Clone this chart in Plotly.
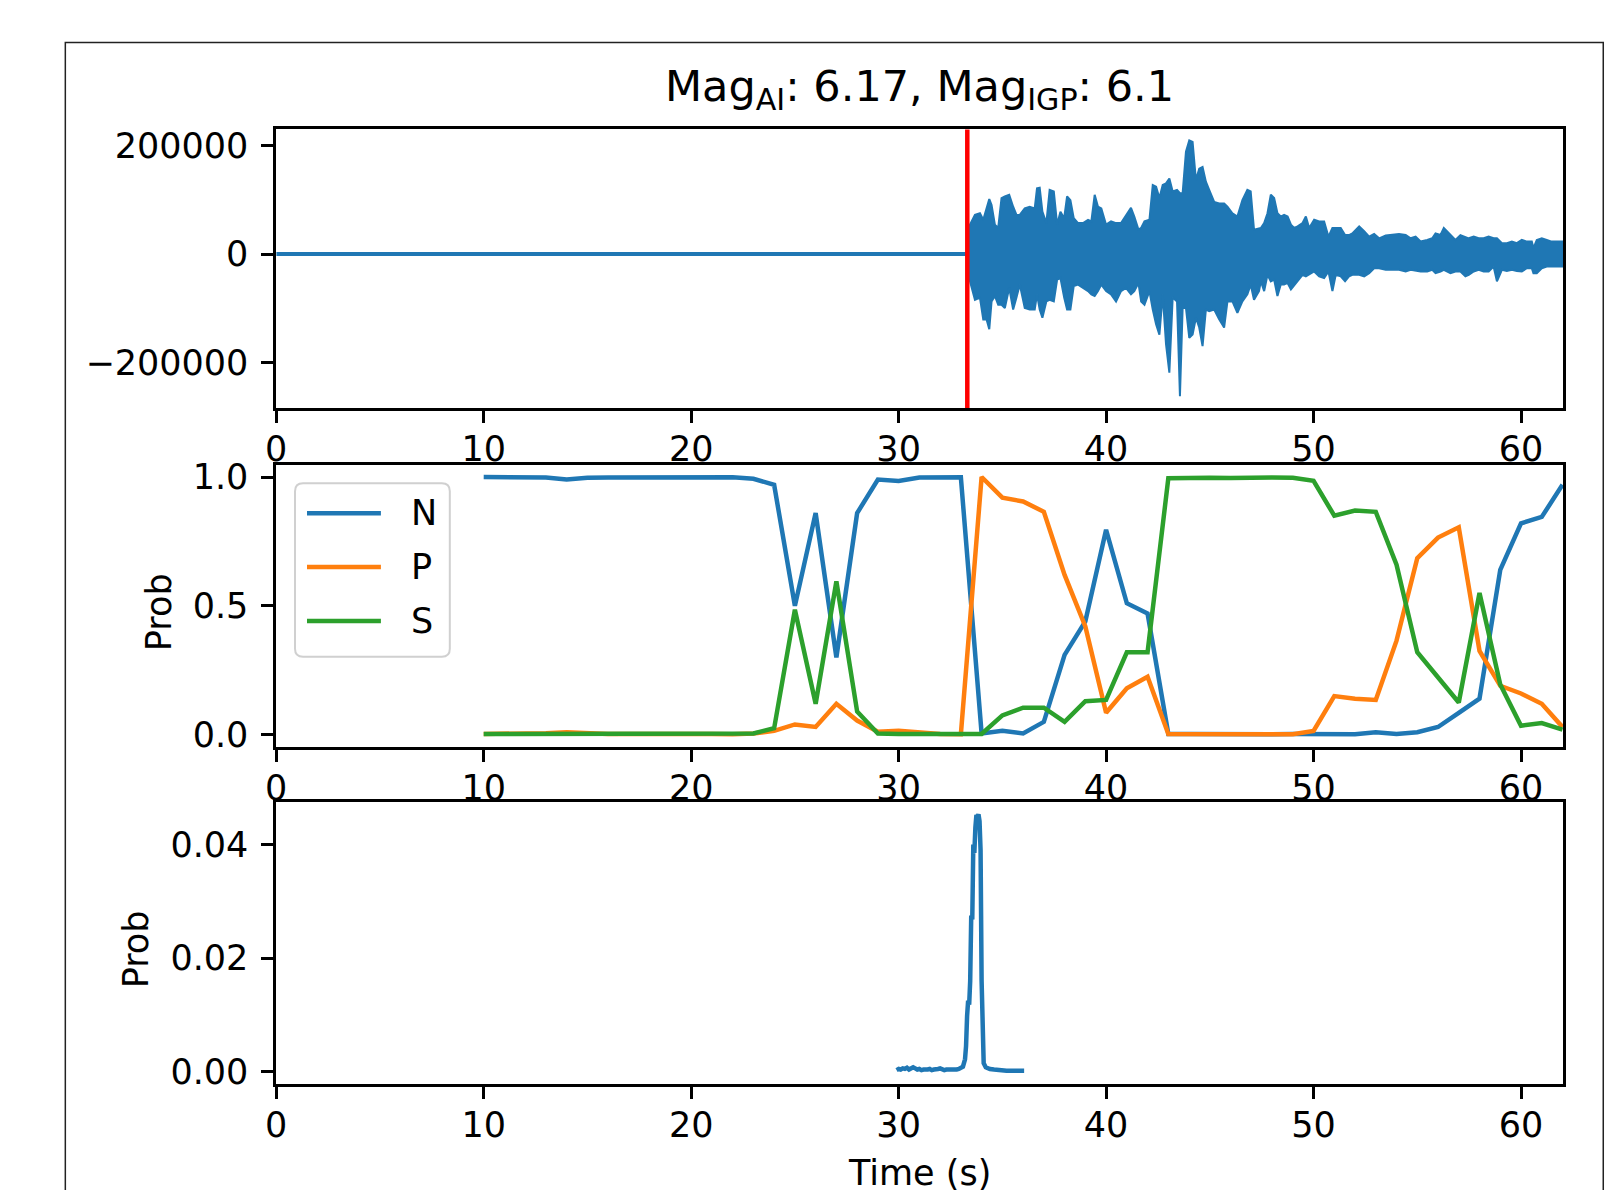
import plotly.graph_objects as go

# ------------------------------------------------------------------ data
# waveform: flat pre-event segment and the envelope of the shaking (counts)
wave_flat_t = [0.0, 33.36]
wave_flat_v = [0, 0]
pick_time = 33.31

env_t = [33.36, 33.44, 33.68, 33.92, 34.08, 34.24, 34.37, 34.48, 34.64, 34.80,
         34.96, 35.12, 35.33, 35.52, 35.68, 35.84, 36.08, 36.32, 36.56, 36.67,
         36.80, 36.93, 37.12, 37.28, 37.48, 37.64, 37.80, 37.98, 38.12, 38.28,
         38.44, 38.65, 38.89, 39.13, 39.29, 39.45, 39.61, 39.77, 40.00, 40.24,
         40.48, 40.72, 40.96, 41.20, 41.36, 41.56, 41.69, 41.85, 42.09, 42.25,
         42.41, 42.57, 42.73, 42.89, 43.05, 43.21, 43.42, 43.56, 43.69, 43.85,
         44.01, 44.17, 44.33, 44.49, 44.65, 44.81, 44.97, 45.21, 45.45, 45.69,
         45.85, 46.09, 46.33, 46.57, 46.81, 46.97, 47.13, 47.37, 47.46, 47.62,
         47.78, 47.94, 48.10, 48.26, 48.42, 48.58, 48.75, 48.91, 49.07, 49.23,
         49.47, 49.63, 49.79, 50.03, 50.27, 50.51, 50.72, 50.91, 51.07, 51.31,
         51.52, 51.71, 51.87, 52.20, 52.44, 52.68, 52.92, 53.16, 53.48, 53.80,
         54.12, 54.44, 54.68, 54.92, 55.16, 55.48, 55.72, 55.88, 56.12, 56.28,
         56.44, 56.60, 56.84, 57.08, 57.32, 57.48, 57.72, 57.96, 58.20, 58.44,
         58.68, 58.84, 59.08, 59.32, 59.56, 59.80, 60.04, 60.28, 60.52, 60.60,
         60.76, 61.00, 61.24, 61.48, 61.72, 61.94, 62.03]
env_upper = [45000, 54000, 72000, 75000, 63000, 84000, 101000, 90000, 54000, 48000,
             103000, 106000, 109000, 87000, 72000, 72000, 84000, 87000, 84000, 121000,
             122000, 78000, 57000, 118000, 115000, 54000, 78000, 66000, 106000, 99000,
             66000, 57000, 57000, 63000, 60000, 109000, 87000, 84000, 54000, 60000,
             57000, 57000, 71000, 85000, 69000, 45000, 48000, 60000, 63000, 127000,
             124000, 103000, 127000, 130000, 139000, 115000, 118000, 112000, 112000, 188000,
             209000, 206000, 136000, 157000, 160000, 133000, 118000, 96000, 93000, 93000,
             87000, 75000, 69000, 99000, 118000, 115000, 45000, 48000, 48000, 57000,
             75000, 109000, 103000, 75000, 69000, 72000, 69000, 54000, 48000, 51000,
             57000, 69000, 48000, 63000, 60000, 60000, 32000, 48000, 48000, 48000,
             35000, 35000, 38000, 51000, 42000, 32000, 37000, 29000, 34000, 35000,
             37000, 35000, 29000, 32000, 23000, 26000, 29000, 38000, 35000, 48000,
             42000, 35000, 26000, 35000, 32000, 29000, 32000, 29000, 29000, 32000,
             29000, 29000, 20000, 20000, 23000, 20000, 26000, 23000, 23000, 11000,
             26000, 29000, 26000, 23000, 23000, 23000, 23000]
env_lower = [-45000, -50000, -84000, -80000, -120000, -120000, -138000, -87000, -77000, -93000,
             -93000, -99000, -62000, -102000, -80000, -56000, -99000, -102000, -102000, -74000,
             -102000, -117000, -87000, -84000, -87000, -47000, -44000, -80000, -102000, -102000,
             -59000, -56000, -62000, -68000, -74000, -77000, -68000, -56000, -68000, -74000,
             -87000, -68000, -62000, -74000, -68000, -53000, -87000, -93000, -68000, -102000,
             -129000, -148000, -74000, -166000, -218000, -80000, -87000, -261000, -99000, -99000,
             -154000, -148000, -117000, -135000, -169000, -102000, -105000, -102000, -120000, -135000,
             -87000, -87000, -108000, -87000, -74000, -56000, -84000, -68000, -50000, -68000,
             -38000, -50000, -47000, -77000, -56000, -56000, -53000, -65000, -56000, -50000,
             -38000, -41000, -38000, -32000, -41000, -44000, -32000, -68000, -38000, -41000,
             -50000, -41000, -38000, -38000, -41000, -35000, -26000, -26000, -29000, -29000,
             -29000, -32000, -29000, -31000, -32000, -32000, -29000, -35000, -32000, -29000,
             -32000, -35000, -32000, -32000, -41000, -38000, -32000, -29000, -32000, -32000,
             -23000, -50000, -29000, -31000, -29000, -31000, -32000, -26000, -26000, -35000,
             -35000, -26000, -23000, -24000, -24000, -23000, -23000]

# phase probabilities (one value per second)
prob_t = list(range(10, 63))
prob_N = [1.0, 1.0, 1.0, 0.998, 0.99, 0.997, 0.998, 0.998, 0.997, 0.996,
          0.997, 0.998, 0.999, 0.993, 0.97, 0.50, 0.86, 0.30, 0.86, 0.99,
          0.985, 0.998, 0.999, 0.999, 0.005, 0.015, 0.005, 0.05, 0.31, 0.44,
          0.795, 0.51, 0.47, 0.003, 0.003, 0.002, 0.002, 0.003, 0.002, 0.003,
          0.004, 0.004, 0.002, 0.01, 0.003, 0.01, 0.03, 0.085, 0.14, 0.64,
          0.82, 0.845, 0.97]
prob_P = [0.003, 0.003, 0.004, 0.006, 0.01, 0.006, 0.003, 0.003, 0.004, 0.005,
          0.004, 0.003, 0.002, 0.005, 0.015, 0.04, 0.03, 0.12, 0.055, 0.012,
          0.015, 0.008, 0.003, 0.002, 1.0, 0.92, 0.905, 0.865, 0.62, 0.42,
          0.085, 0.18, 0.225, 0.003, 0.002, 0.002, 0.002, 0.002, 0.002, 0.002,
          0.015, 0.15, 0.14, 0.135, 0.365, 0.685, 0.765, 0.805, 0.325, 0.19,
          0.16, 0.12, 0.03]
prob_S = [0.003, 0.003, 0.003, 0.003, 0.003, 0.003, 0.003, 0.003, 0.003, 0.003,
          0.003, 0.003, 0.003, 0.005, 0.025, 0.485, 0.12, 0.595, 0.09, 0.005,
          0.003, 0.003, 0.002, 0.002, 0.003, 0.075, 0.105, 0.105, 0.05, 0.13,
          0.135, 0.32, 0.32, 0.995, 0.997, 0.997, 0.996, 0.998, 0.998, 0.997,
          0.985, 0.85, 0.87, 0.865, 0.66, 0.32, 0.22, 0.125, 0.55, 0.195,
          0.035, 0.045, 0.02]

# event probability
ev_t = [29.9, 30.0, 30.1, 30.2, 30.3, 30.4, 30.5, 30.6, 30.7, 30.8,
        30.9, 31.0, 31.1, 31.2, 31.3, 31.4, 31.5, 31.6, 31.7, 31.8,
        31.9, 32.0, 32.1, 32.2, 32.3, 32.4, 32.5, 32.6, 32.7, 32.8,
        32.9, 33.0, 33.1, 33.2, 33.25, 33.3, 33.35, 33.4, 33.45, 33.5,
        33.55, 33.6, 33.65, 33.7, 33.75, 33.8, 33.85, 33.9, 33.95, 34.0,
        34.05, 34.1, 34.2, 34.3, 34.4, 34.6, 34.8, 35.0, 35.2, 35.4,
        35.6, 35.8, 36.05]
ev_p = [0.0003, 0.0005, 0.0004, 0.0006, 0.0005, 0.0007, 0.0004, 0.0005, 0.0008, 0.0006,
        0.0004, 0.0005, 0.0003, 0.0004, 0.0003, 0.0004, 0.0005, 0.0003, 0.0004, 0.0004,
        0.0005, 0.0006, 0.0004, 0.0003, 0.0004, 0.0003, 0.0004, 0.0004, 0.0003, 0.0004,
        0.0005, 0.0006, 0.0009, 0.0022, 0.0045, 0.0098, 0.0125, 0.0118, 0.0160, 0.0275,
        0.0268, 0.0400, 0.0385, 0.0430, 0.0452, 0.0448, 0.0453, 0.0441, 0.0390, 0.0160,
        0.0060, 0.0015, 0.0008, 0.0006, 0.0005, 0.0004, 0.0003, 0.0003, 0.0002, 0.0002,
        0.0002, 0.0002, 0.0002]

x_ticks = [0, 10, 20, 30, 40, 50, 60]
title_text = "Mag<sub>AI</sub>: 6.17, Mag<sub>IGP</sub>: 6.1"
legend_names = ["N", "P", "S"]

# ------------------------------------------------------------------ style
W, H = 1610, 1190
# calibration of where the rendered page lands in the photograph
AX, BX, AY, BY = 0.9945, 8.6, 0.9891, 5.5
BLUE, ORANGE, GREEN = "#1f77b4", "#ff7f0e", "#2ca02c"
FONT = "DejaVu Sans"
FS = 35
LW = 4.5
SP = 2.8


def px(x):
    """target picture pixel x -> paper fraction"""
    return (x - BX) / AX / W


def py(y):
    """target picture pixel y -> paper fraction"""
    return 1 - (y - BY) / AY / H


X0, X1 = 274.2, 1562.8
PANELS = [(127.3, 406.6), (464.1, 746.5), (801.9, 1084.3)]
XR = [0, 62.03]

fig = go.Figure()

# top: waveform
fig.add_trace(go.Scatter(x=wave_flat_t, y=wave_flat_v, mode="lines",
                         line=dict(color=BLUE, width=4), xaxis="x", yaxis="y",
                         showlegend=False, hoverinfo="skip"))
fig.add_trace(go.Scatter(x=env_t + env_t[::-1], y=env_upper + env_lower[::-1],
                         mode="lines", fill="toself", fillcolor=BLUE,
                         line=dict(color=BLUE, width=2), xaxis="x", yaxis="y",
                         showlegend=False, hoverinfo="skip"))

# middle: probabilities
for name, vals, col in zip(legend_names, [prob_N, prob_P, prob_S], [BLUE, ORANGE, GREEN]):
    fig.add_trace(go.Scatter(x=prob_t, y=vals, mode="lines", name=name,
                             line=dict(color=col, width=LW), xaxis="x2", yaxis="y2",
                             showlegend=False))

# bottom: event probability
fig.add_trace(go.Scatter(x=ev_t, y=ev_p, mode="lines", line=dict(color=BLUE, width=LW),
                         xaxis="x3", yaxis="y3", showlegend=False))

# red pick line
fig.add_shape(type="line", xref="x", yref="y domain", x0=pick_time, x1=pick_time,
              y0=0, y1=1, line=dict(color="#ff0000", width=4.5))

axis_common = dict(showgrid=False, zeroline=False, showline=True, mirror=True,
                   linecolor="black", linewidth=SP, ticks="outside", ticklen=12,
                   tickwidth=SP, tickcolor="black",
                   tickfont=dict(family=FONT, size=FS, color="black"))

layout = dict(width=W, height=H, autosize=False,
              margin=dict(l=0, r=0, t=0, b=0),
              paper_bgcolor="white", plot_bgcolor="white", showlegend=False)

yranges = [[-283000, 229000], [-0.048, 1.045], [-0.00215, 0.0474]]
ytick_vals = [[-200000, 0, 200000], [0.0, 0.5, 1.0], [0.0, 0.02, 0.04]]
ytick_text = [["\u2212200000", "0", "200000"], ["0.0", "0.5", "1.0"], ["0.00", "0.02", "0.04"]]

for i, (top, bot) in enumerate(PANELS):
    sx = "" if i == 0 else str(i + 1)
    layout["xaxis" + sx] = dict(axis_common, domain=[px(X0), px(X1)], range=XR,
                                tickvals=x_ticks, anchor="y" + sx, ticklabelstandoff=-4)
    layout["yaxis" + sx] = dict(axis_common, domain=[py(bot), py(top)], range=yranges[i],
                                tickvals=ytick_vals[i], ticktext=ytick_text[i],
                                anchor="x" + sx, ticklabelstandoff=6)

fig.update_layout(**layout)

# outer frame
fig.add_shape(type="rect", xref="paper", yref="paper", x0=px(63), x1=px(1603),
              y0=py(1300), y1=py(40), line=dict(color="#222222", width=1.5),
              fillcolor="rgba(0,0,0,0)", layer="below")

# title and axis labels
fig.add_annotation(text=title_text, xref="paper", yref="paper", x=px(918.5), y=py(87),
                   xanchor="center", yanchor="middle", showarrow=False,
                   font=dict(family=FONT, size=43, color="black"))
fig.add_annotation(text="Time (s)", xref="paper", yref="paper", x=px(918.5), y=py(1174),
                   xanchor="center", yanchor="middle", showarrow=False,
                   font=dict(family=FONT, size=FS, color="black"))
for xc, yc in [(157, 611), (134, 949)]:
    fig.add_annotation(text="Prob", xref="paper", yref="paper", x=px(xc), y=py(yc),
                       xanchor="center", yanchor="middle", textangle=-90, showarrow=False,
                       font=dict(family=FONT, size=FS, color="black"))

# legend (drawn like matplotlib's)
bx0, by0, bx1, by1, r = 293, 482, 448, 656, 8
path = (f"M{px(bx0 + r)},{py(by0)} L{px(bx1 - r)},{py(by0)} Q{px(bx1)},{py(by0)} {px(bx1)},{py(by0 + r)} "
        f"L{px(bx1)},{py(by1 - r)} Q{px(bx1)},{py(by1)} {px(bx1 - r)},{py(by1)} "
        f"L{px(bx0 + r)},{py(by1)} Q{px(bx0)},{py(by1)} {px(bx0)},{py(by1 - r)} "
        f"L{px(bx0)},{py(by0 + r)} Q{px(bx0)},{py(by0)} {px(bx0 + r)},{py(by0)} Z")
fig.add_shape(type="path", path=path, xref="paper", yref="paper",
              fillcolor="rgba(255,255,255,0.8)", line=dict(color="#d0d0d0", width=2))
for name, col, yy in zip(legend_names, [BLUE, ORANGE, GREEN], [512, 566, 620]):
    fig.add_shape(type="line", xref="paper", yref="paper", x0=px(305), x1=px(379),
                  y0=py(yy), y1=py(yy), line=dict(color=col, width=LW))
    fig.add_annotation(text=name, xref="paper", yref="paper", x=px(407), y=py(yy),
                       xanchor="left", yanchor="middle", showarrow=False,
                       font=dict(family=FONT, size=FS, color="black"))

fig.write_html("out.html", config={"displayModeBar": False},
               post_script="document.body.style.margin='0px';document.body.style.overflow='hidden';")
